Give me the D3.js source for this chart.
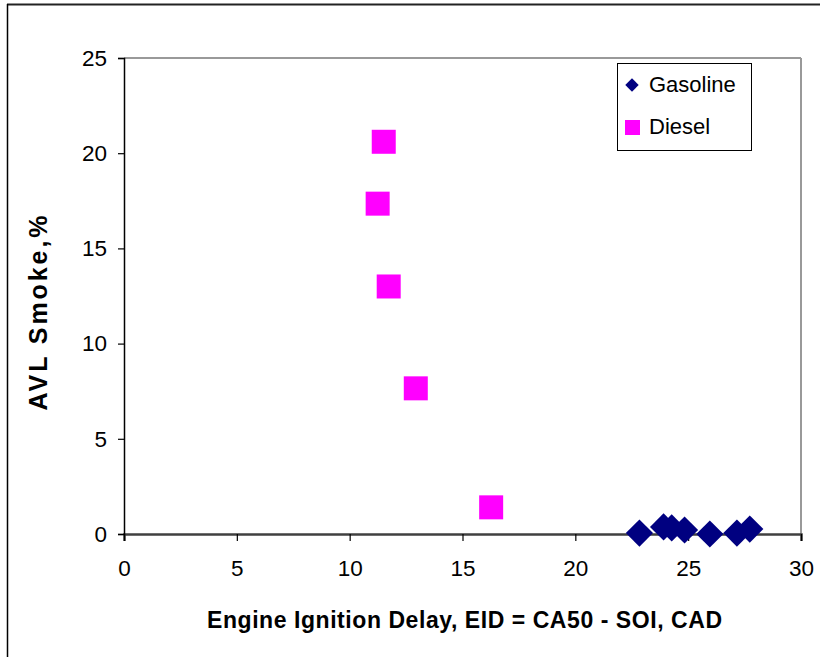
<!DOCTYPE html>
<html>
<head>
<meta charset="utf-8">
<script src="https://cdn.jsdelivr.net/npm/d3@7"></script>
<style>
  body { margin: 0; background: #fff; }
  text { font-family: "Liberation Sans", Arial, sans-serif; }
</style>
</head>
<body>
<div id="chart"></div>
<script>
var gasolineX = [22.84, 23.91, 24.27, 24.84, 25.96, 27.16, 27.73];
var gasolineY = [0.05, 0.37, 0.32, 0.21, 0.0, 0.05, 0.26];
var dieselX = [11.51, 11.24, 11.73, 12.93, 16.27];
var dieselY = [20.6, 17.35, 13.0, 7.65, 1.4];
var xTicks = [0, 5, 10, 15, 20, 25, 30];
var yTicks = [0, 5, 10, 15, 20, 25];

var width = 820;
var height = 657;
var margin = { left: 124, right: 19, top: 58, bottom: 123 };

var svg = d3.select("#chart")
  .append("svg")
  .attr("width", width)
  .attr("height", height);

// outer chart border (top and left only visible)
svg.append("line").attr("x1", 7).attr("x2", width).attr("y1", 4.5).attr("y2", 4.5)
  .attr("stroke", "#222").attr("stroke-width", 2);
svg.append("line").attr("x1", 7.5).attr("x2", 7.5).attr("y1", 4).attr("y2", height)
  .attr("stroke", "#000").attr("stroke-width", 1.5);

var x = d3.scaleLinear().domain([0, 30]).range([margin.left, width - margin.right]);
var y = d3.scaleLinear().domain([0, 25]).range([height - margin.bottom, margin.top]);

// plot area frame
svg.append("line").attr("x1", x(0)).attr("x2", x(30)).attr("y1", y(25)).attr("y2", y(25))
  .attr("stroke", "#999").attr("stroke-width", 2);
svg.append("line").attr("x1", x(30)).attr("x2", x(30)).attr("y1", y(25)).attr("y2", y(0))
  .attr("stroke", "#999").attr("stroke-width", 2);

var xAxis = svg.append("g")
  .attr("transform", "translate(0," + y(0) + ")")
  .call(d3.axisBottom(x).tickValues(xTicks).tickSize(7).tickPadding(19));
var yAxis = svg.append("g")
  .attr("transform", "translate(" + x(0) + ",0)")
  .call(d3.axisLeft(y).tickValues(yTicks).tickSize(6).tickPadding(11));

xAxis.select(".domain").attr("stroke", "#404040").attr("stroke-width", 2.5);
yAxis.select(".domain").attr("stroke", "#000").attr("stroke-width", 1.5);
svg.selectAll(".tick line").attr("stroke", "#000").attr("stroke-width", 1.2);
svg.selectAll(".tick text")
  .attr("font-size", 22.5)
  .attr("font-family", "Liberation Sans, Arial, sans-serif")
  .attr("fill", "#000");

// axis titles
svg.append("text")
  .attr("x", 464.5).attr("y", 628)
  .attr("text-anchor", "middle")
  .attr("font-size", 23).attr("font-weight", "bold")
  .attr("textLength", 515).attr("lengthAdjust", "spacing")
  .text("Engine Ignition Delay, EID = CA50 - SOI, CAD");
svg.append("text")
  .attr("transform", "translate(47,313) rotate(-90)")
  .attr("text-anchor", "middle")
  .attr("font-size", 25).attr("font-weight", "bold")
  .attr("textLength", 195).attr("lengthAdjust", "spacing")
  .text("AVL Smoke,%");

// diesel squares
var dieselData = dieselX.map(function(d, i) { return { x: d, y: dieselY[i] }; });
var sq = 24;
svg.selectAll("rect.diesel")
  .data(dieselData)
  .enter().append("rect")
  .attr("class", "diesel")
  .attr("x", function(d) { return x(d.x) - sq / 2; })
  .attr("y", function(d) { return y(d.y) - sq / 2; })
  .attr("width", sq).attr("height", sq)
  .attr("fill", "#ff00ff");

// gasoline diamonds
var gasData = gasolineX.map(function(d, i) { return { x: d, y: gasolineY[i] }; });
var diamond = d3.symbol().type(d3.symbolSquare).size(370);
svg.selectAll("path.gas")
  .data(gasData)
  .enter().append("path")
  .attr("class", "gas")
  .attr("d", diamond)
  .attr("transform", function(d) { return "translate(" + x(d.x) + "," + y(d.y) + ") rotate(45)"; })
  .attr("fill", "#000080");

// legend
var legend = svg.append("g");
legend.append("rect")
  .attr("x", 617.5).attr("y", 63.5).attr("width", 134).attr("height", 87)
  .attr("fill", "#fff").attr("stroke", "#000").attr("stroke-width", 1);
legend.append("path")
  .attr("d", d3.symbol().type(d3.symbolSquare).size(90))
  .attr("transform", "translate(632,85) rotate(45)")
  .attr("fill", "#000080");
legend.append("rect")
  .attr("x", 625).attr("y", 120).attr("width", 15).attr("height", 15)
  .attr("fill", "#ff00ff");
legend.append("text").attr("x", 649).attr("y", 92).attr("font-size", 22).text("Gasoline");
legend.append("text").attr("x", 649).attr("y", 134).attr("font-size", 22).text("Diesel");
</script>
</body>
</html>
